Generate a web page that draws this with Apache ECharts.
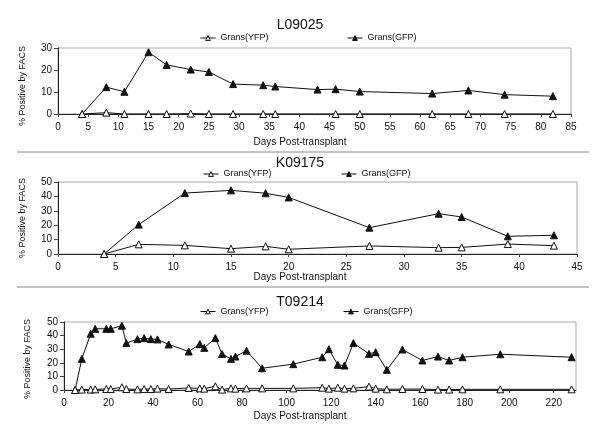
<!DOCTYPE html>
<html>
<head>
<meta charset="utf-8">
<script src="https://cdn.jsdelivr.net/npm/echarts@6/dist/echarts.min.js"></script>
<style>html,body{margin:0;padding:0;background:#fff}#c{width:600px;height:430px}</style>
</head>
<body>
<div id="c"></div>
<script>
// ---- Panel titles ----
var panelTitles = ['L09025', 'K09175', 'T09214'];
var seriesNames = ['Grans(YFP)', 'Grans(GFP)'];

// ---- L09025 ----
var daysL_GFP = [4, 8, 11, 15, 18, 22, 25, 29, 34, 36, 43, 46, 50, 62, 68, 74, 82];
var gfpL = [0, 12.2, 10.1, 28.1, 22.3, 20.2, 19.1, 13.6, 13.1, 12.5, 11.1, 11.3, 10.2, 9.3, 10.7, 8.8, 8.1];
var daysL_YFP = [4, 8, 11, 15, 18, 22, 25, 29, 34, 36, 46, 50, 62, 68, 74, 82];
var yfpL = [0, 0.6, 0, 0, 0, 0.2, 0, 0, 0, 0, 0, 0, 0, 0, 0, 0];

// ---- K09175 ----
var daysK = [4, 7, 11, 15, 18, 20, 27, 33, 35, 39, 43];
var gfpK = [0, 20.4, 42.3, 44.2, 42.2, 39.3, 18.3, 28, 25.7, 12.3, 13];
var yfpK = [0, 6.7, 6.0, 3.7, 5.3, 3.3, 5.6, 4.4, 4.6, 6.9, 5.8];

// ---- T09214 ----
var daysT = [5, 8, 12, 14, 19, 21, 26, 28, 33, 36, 39, 42, 47, 56, 61, 63, 68, 71, 75, 77, 82, 89, 103, 116, 119, 123, 126, 130, 137, 140, 145, 152, 161, 168, 173, 179, 196, 228];
var gfpT = [0, 22.9, 41.4, 45, 45, 45, 47.3, 34.5, 37.4, 38.2, 37.4, 37.2, 33.5, 28.3, 33.7, 31, 38.2, 26.5, 22.9, 24.6, 28.9, 16, 19, 24.1, 30, 18.5, 18, 34.5, 26.6, 27.8, 14.8, 29.8, 21.7, 24.6, 21.7, 24.1, 26.3, 24.1];
var yfpT = [0, 0.3, 0.3, 0.5, 0.7, 0.7, 2.0, 0.7, 0.5, 0.7, 0.7, 1.0, 0.7, 1.5, 1.2, 1.0, 2.7, 0.3, 1.2, 1.0, 1.2, 1.2, 1.2, 1.7, 1.0, 1.7, 1.0, 1.2, 2.5, 1.0, 0.5, 0.7, 0.7, 0.3, 0.3, 0.5, 0.5, 0.5];

// axis settings
var xMax = [85, 45, 230];
var xInterval = [5, 5, 20];
var yMax = [30, 50, 50];
var yInterval = [10, 10, 10];
var xAxisTitle = 'Days Post-transplant';
var yAxisTitle = '% Positive by FACS';

function zip(xs, ys) { return xs.map(function (x, i) { return [x, ys[i]]; }); }

var FONT = 'Liberation Sans, Arial, sans-serif';
var grids = [
  { left: 58, right: 29, top: 48, height: 66 },
  { left: 58, right: 23, top: 182, height: 72 },
  { left: 64, right: 24, top: 322, height: 68 }
];
grids.forEach(function (g) { g.show = true; g.borderColor = '#aaa'; g.borderWidth = 1; g.backgroundColor = 'transparent'; });

var xAxes = [], yAxes = [];
for (var i = 0; i < 3; i++) {
  xAxes.push({
    type: 'value', gridIndex: i, min: 0, max: xMax[i], interval: xInterval[i],
    axisLine: { show: true, onZero: false, lineStyle: { color: '#222', width: 1 } },
    axisTick: { show: true, length: 3, lineStyle: { color: '#444' } },
    splitLine: { show: false },
    axisLabel: { color: '#111', fontSize: 10, fontFamily: FONT, margin: 8, showMaxLabel: i < 2 }
  });
  yAxes.push({
    type: 'value', gridIndex: i, min: 0, max: yMax[i], interval: yInterval[i],
    axisLine: { show: true, lineStyle: { color: '#222', width: 1 } },
    axisTick: { show: true, length: 4, lineStyle: { color: '#444' } },
    splitLine: { show: false },
    axisLabel: { color: '#111', fontSize: 10, fontFamily: FONT, margin: 6 }
  });
}

var yfpStyle = { color: '#fff', borderColor: '#111', borderWidth: 1 };
var gfpStyle = { color: '#111', borderColor: '#111', borderWidth: 1 };
function mk(name, idx, data, isG) {
  return {
    name: name, type: 'line', xAxisIndex: idx, yAxisIndex: idx, data: data,
    symbol: 'triangle', symbolSize: 7, showAllSymbol: true,
    lineStyle: { color: '#111', width: 1 },
    itemStyle: isG ? gfpStyle : yfpStyle,
    animation: false, z: isG ? 3 : 4
  };
}
var series = [
  mk(seriesNames[0], 0, zip(daysL_YFP, yfpL), false),
  mk(seriesNames[1], 0, zip(daysL_GFP, gfpL), true),
  mk(seriesNames[0], 1, zip(daysK, yfpK), false),
  mk(seriesNames[1], 1, zip(daysK, gfpK), true),
  mk(seriesNames[0], 2, zip(daysT, yfpT), false),
  mk(seriesNames[1], 2, zip(daysT, gfpT), true)
];

var titleTops = [18, 156, 295];
var titles = panelTitles.map(function (t, i) {
  return { text: t, left: 'center', top: titleTops[i], padding: 0,
    textStyle: { fontSize: 14, fontWeight: 'normal', color: '#111', fontFamily: FONT } };
});

var legendTops = [33.5, 169.5, 307];
var legendLefts = [[200, 347], [203, 341], [200, 343]];
var legends = [];
for (var p = 0; p < 3; p++) {
  for (var s = 0; s < 2; s++) {
    legends.push({
      data: [seriesNames[s]], left: legendLefts[p][s], top: legendTops[p], padding: 0,
      itemWidth: 15, itemHeight: 6, itemGap: 5,
      itemStyle: s === 0 ? { color: '#fff', borderColor: '#111', borderWidth: 1 } : { color: '#111', borderColor: '#111', borderWidth: 1 },
      lineStyle: { color: '#111', width: 1 },
      textStyle: { fontSize: 9, color: '#111', fontFamily: FONT }
    });
  }
}

var xNameY = [142, 277.5, 416];
var yNamePos = [[23, 86], [23, 218], [28, 359]];
var graphics = [
  { type: 'line', shape: { x1: 17, y1: 152, x2: 589, y2: 152 }, style: { stroke: '#888', lineWidth: 1 } },
  { type: 'line', shape: { x1: 17, y1: 287, x2: 589, y2: 287 }, style: { stroke: '#888', lineWidth: 1 } }
];
for (var k = 0; k < 3; k++) {
  graphics.push({ type: 'text', x: 300, y: xNameY[k],
    style: { text: xAxisTitle, fontSize: 10, fontFamily: FONT, fill: '#111', align: 'center', verticalAlign: 'middle' } });
  graphics.push({ type: 'text', x: yNamePos[k][0], y: yNamePos[k][1], rotation: Math.PI / 2,
    style: { text: yAxisTitle, fontSize: 9, fontFamily: FONT, fill: '#111', align: 'center', verticalAlign: 'middle' } });
}

var chart = echarts.init(document.getElementById('c'), null, { renderer: 'canvas' });
chart.setOption({
  animation: false,
  backgroundColor: '#fff',
  title: titles,
  legend: legends,
  grid: grids,
  xAxis: xAxes,
  yAxis: yAxes,
  series: series,
  graphic: graphics
});
</script>
</body>
</html>
